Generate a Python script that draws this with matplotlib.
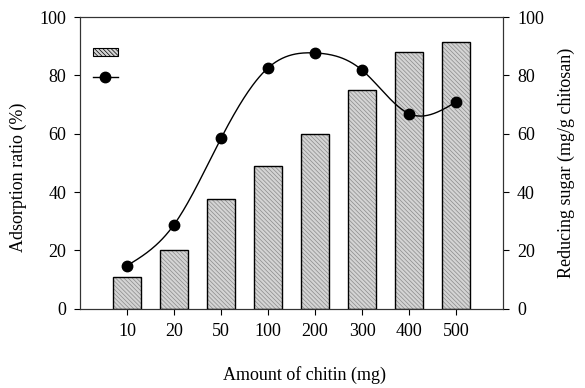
import numpy as np
import matplotlib
matplotlib.use("Agg")
import matplotlib.pyplot as plt
from matplotlib.patches import Patch
from matplotlib.lines import Line2D

# chitin amounts and measured responses
chitin_mg = ["10", "20", "50", "100", "200", "300", "400", "500"]
adsorption_ratio = [11.0, 20.2, 37.5, 48.9, 60.0, 74.9, 88.1, 91.5]
reducing_sugar = [14.8, 28.9, 58.5, 82.6, 87.7, 81.8, 66.9, 70.9]

plt.rcParams["font.family"] = ["Liberation Serif", "DejaVu Serif"]
plt.rcParams["hatch.linewidth"] = 0.5

BAR_HATCH = "\\" * 8


def natural_spline(x, y, n=300):
    # natural cubic spline, used only to draw a smooth connecting curve
    x = np.asarray(x, float)
    y = np.asarray(y, float)
    k = len(x)
    h = np.diff(x)
    A = np.zeros((k, k))
    b = np.zeros(k)
    A[0, 0] = A[-1, -1] = 1
    for i in range(1, k - 1):
        A[i, i - 1] = h[i - 1]
        A[i, i] = 2 * (h[i - 1] + h[i])
        A[i, i + 1] = h[i]
        b[i] = 6 * ((y[i + 1] - y[i]) / h[i] - (y[i] - y[i - 1]) / h[i - 1])
    m = np.linalg.solve(A, b)
    xs = np.linspace(x[0], x[-1], n)
    idx = np.clip(np.searchsorted(x, xs) - 1, 0, k - 2)
    x0, x1 = x[idx], x[idx + 1]
    hh = x1 - x0
    t0, t1 = x1 - xs, xs - x0
    ys = (m[idx] * t0**3 + m[idx + 1] * t1**3) / (6 * hh) \
        + (y[idx] / hh - m[idx] * hh / 6) * t0 \
        + (y[idx + 1] / hh - m[idx + 1] * hh / 6) * t1
    return xs, ys


fig = plt.figure(figsize=(5.85, 3.88), dpi=100)
ax = fig.add_axes([0.137, 0.204, 0.723, 0.752])
x = np.arange(len(chitin_mg))

# hatched grey fill, then the black outline on top
ax.bar(x, adsorption_ratio, width=0.6, color="#d4d4d4", edgecolor="#8a8a8a",
       hatch=BAR_HATCH, linewidth=0, zorder=2)
ax.bar(x, adsorption_ratio, width=0.6, fill=False, edgecolor="black",
       linewidth=1.0, zorder=3)

ax2 = ax.twinx()
xs, ys = natural_spline(x, reducing_sugar)
ax2.plot(xs, ys, color="black", lw=1.0, zorder=4)
ax2.plot(x, reducing_sugar, "o", color="black", ms=7.5, zorder=5)

for a in (ax, ax2):
    a.set_ylim(0, 100)
    a.set_yticks(range(0, 101, 20))
    for s in a.spines.values():
        s.set_linewidth(0.8)
        s.set_color("#333333")
ax.set_xlim(-1.0, 8.0)
ax.set_xticks(x)
ax.set_xticklabels(chitin_mg)
ax.tick_params(direction="out", length=4, width=0.8, labelsize=13, pad=6)
ax2.tick_params(direction="out", length=4, width=0.8, labelsize=13, pad=6)

ax.set_ylabel("Adsorption ratio (%)", fontsize=13, labelpad=6)
ax.yaxis.set_label_coords(-0.125, 0.45)
ax2.set_ylabel("Reducing sugar (mg/g chitosan)", fontsize=13, labelpad=10)
fig.text(0.52, 0.02, "Amount of chitin (mg)", fontsize=13, ha="center")

handles = [
    Patch(facecolor="#d4d4d4", edgecolor="black", hatch=BAR_HATCH, linewidth=0.8),
    Line2D([0], [0], color="black", lw=1.0, marker="o", ms=7.5),
]
ax.legend(handles, [" ", " "], loc="upper left", frameon=False,
          bbox_to_anchor=(0.0, 0.94), handlelength=1.8, handleheight=0.5,
          labelspacing=0.8, borderaxespad=0.5, handletextpad=0.0)

fig.savefig("out.png", dpi=100)
